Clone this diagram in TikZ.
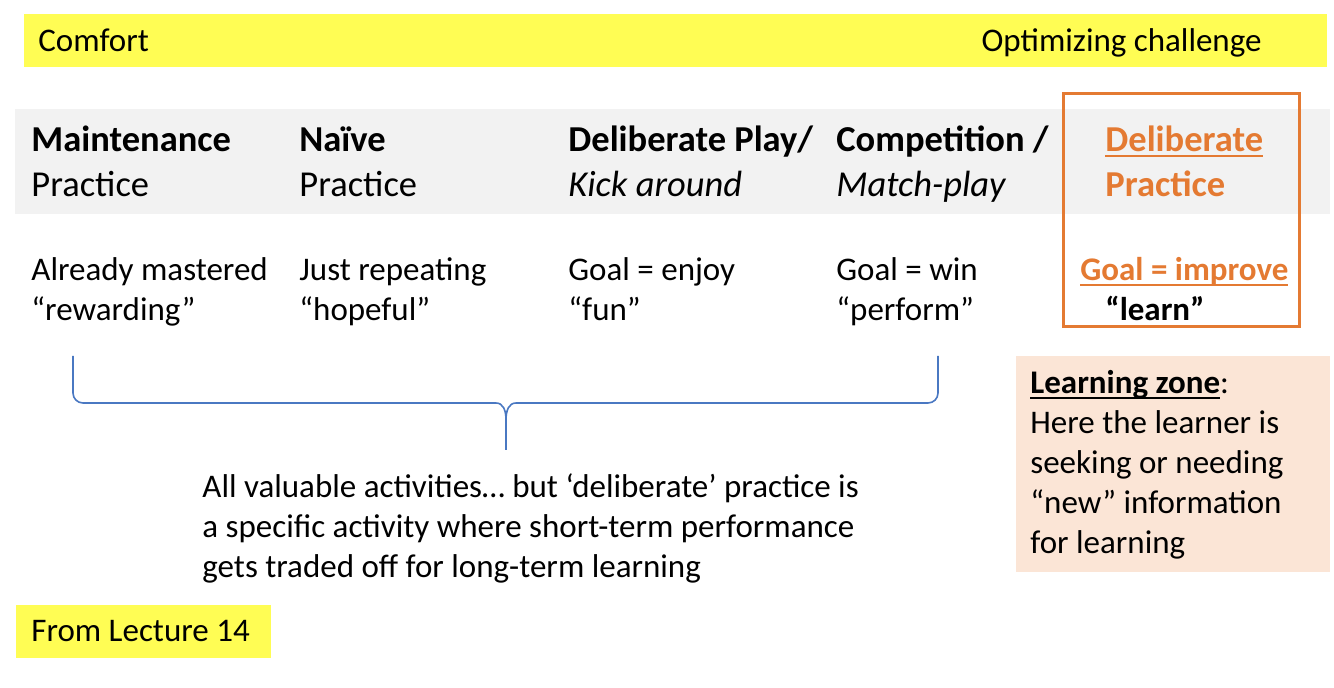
\documentclass[tikz,border=0pt]{standalone}
\usepackage{fontspec}
\setmainfont{Carlito}
\definecolor{hiyellow}{HTML}{FFFD54}
\definecolor{bandgray}{HTML}{F2F2F2}
\definecolor{dporange}{HTML}{E47A32}
\definecolor{zonepeach}{HTML}{FBE5D6}
\definecolor{braceblue}{HTML}{4A78C2}
\newcommand{\regfont}{\fontsize{16.5}{20}\selectfont}
\newcommand{\headfont}{\fontsize{18.25}{22.5}\selectfont}
\newcommand{\ulwords}[1]{\sbox0{#1}\rlap{\rule[-2.4pt]{\wd0}{0.9pt}}\usebox0}

\begin{document}
\begin{tikzpicture}[x=0.5pt,y=-0.5pt,
    every node/.style={inner sep=0pt, anchor=base west, align=left}]
  \useasboundingbox (0,0) rectangle (1334,688);
  \fill[hiyellow] (24,14) rectangle (1327,67);
  \fill[bandgray] (15,109) rectangle (1330,214);
  \fill[zonepeach] (1016,356) rectangle (1330,572);
  \fill[hiyellow] (16,605) rectangle (271,658);
  \draw[dporange, line width=1.5pt] (1063,94) rectangle (1299,327);

  \node[font=\regfont] (comfort) at (38,52) {Comfort};
  \node[font=\regfont, anchor=base east] (optim) at (1262,52) {Optimizing challenge};

  % kinds of practice (base = last line)
  \node[font=\headfont] (maint) at (31,197) {\textbf{Maintenance}\\Practice};
  \node[font=\headfont] (naive) at (299,197) {\textbf{Naïve}\\Practice};
  \node[font=\headfont] (play) at (568,197) {\textbf{Deliberate Play/}\\\textit{Kick around}};
  \node[font=\headfont] (match) at (836,197) {\textbf{Competition /}\\\textit{Match-play}};
  \node[font=\headfont\bfseries, text=dporange] (delib) at (1105,197) {\ulwords{Deliberate}\\Practice};

  % goals
  \node[font=\regfont] (mastered) at (31,321) {Already mastered\\“rewarding”};
  \node[font=\regfont] (repeat) at (299,321) {Just repeating\\“hopeful”};
  \node[font=\regfont] (enjoy) at (568,321) {Goal = enjoy\\“fun”};
  \node[font=\regfont] (win) at (836,321) {Goal = win\\“perform”};
  \node[font=\regfont\bfseries, text=dporange] (improve) at (1080,281) {\ulwords{Goal = improve}};
  \node[font=\regfont\bfseries] (learn) at (1105,321) {“learn”};

  \draw[braceblue, line width=0.8pt] (73,356) -- (73,393) to[out=-90,in=180] (83,403) -- (496,403)
    .. controls (503,403) and (506,410) .. (506,420) -- (506,450);
  \draw[braceblue, line width=0.8pt] (938,356) -- (938,393) to[out=-90,in=0] (928,403) -- (516,403)
    .. controls (509,403) and (506,410) .. (506,420);

  \node[font=\regfont] (summary) at (202,578) {All valuable activities… but ‘deliberate’ practice is\\a specific activity where short-term performance\\gets traded off for long-term learning};
  \node[font=\regfont] (lecture) at (31,642) {From Lecture 14};
  \node[font=\regfont] (zone) at (1030,554) {\textbf{\ulwords{Learning zone}}:\\Here the learner is\\seeking or needing\\“new” information\\for learning};
\end{tikzpicture}
\end{document}
